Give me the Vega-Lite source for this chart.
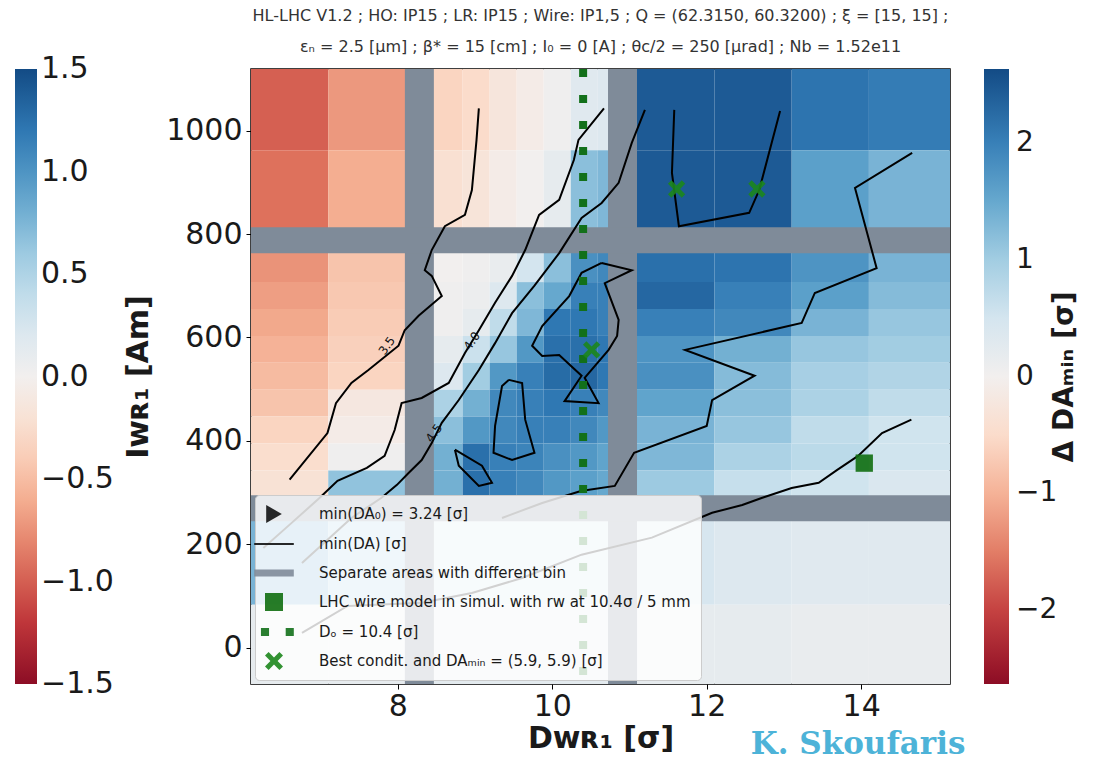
{
  "$schema": "https://vega.github.io/schema/vega-lite/v6.json",
  "width": 699,
  "height": 615,
  "padding": {"left": 15, "top": 7, "right": 0, "bottom": 0},
  "background": "white",
  "title": {
    "text": [
      "HL-LHC V1.2 ; HO: IP15 ; LR: IP15 ; Wire: IP1,5 ; Q = (62.3150, 60.3200) ; ξ = [15, 15] ;",
      "εₙ = 2.5 [μm] ;  β* = 15 [cm] ; I₀ = 0 [A] ; θc/2 = 250 [μrad] ; Nb = 1.52e11"
    ],
    "frame": "group",
    "anchor": "middle",
    "fontSize": 16,
    "fontWeight": "normal",
    "color": "#333333",
    "lineHeight": 31,
    "offset": 0
  },
  "layer": [
    {
      "data": {"values": [
        {"d0":6.0,"d1":7.1,"i0":962,"i1":1130,"v":-1.75},{"d0":7.1,"d1":8.3,"i0":962,"i1":1130,"v":-1.25},{"d0":8.3,"d1":8.84,"i0":962,"i1":1130,"v":-0.6},{"d0":8.84,"d1":9.19,"i0":962,"i1":1130,"v":-0.5},{"d0":9.19,"d1":9.54,"i0":962,"i1":1130,"v":-0.25},{"d0":9.54,"d1":9.89,"i0":962,"i1":1130,"v":-0.1},{"d0":9.89,"d1":10.24,"i0":962,"i1":1130,"v":0.05},{"d0":10.24,"d1":10.59,"i0":962,"i1":1130,"v":0.3},{"d0":10.59,"d1":10.91,"i0":962,"i1":1130,"v":0.35},{"d0":10.91,"d1":12.1,"i0":962,"i1":1130,"v":2.45},{"d0":12.1,"d1":13.1,"i0":962,"i1":1130,"v":2.45},{"d0":13.1,"d1":14.1,"i0":962,"i1":1130,"v":2.15},{"d0":14.1,"d1":15.3,"i0":962,"i1":1130,"v":2.05},
        {"d0":6.0,"d1":7.1,"i0":775,"i1":962,"v":-1.6},{"d0":7.1,"d1":8.3,"i0":775,"i1":962,"v":-1.05},{"d0":8.3,"d1":8.84,"i0":775,"i1":962,"v":-0.4},{"d0":8.84,"d1":9.19,"i0":775,"i1":962,"v":-0.3},{"d0":9.19,"d1":9.54,"i0":775,"i1":962,"v":-0.1},{"d0":9.54,"d1":9.89,"i0":775,"i1":962,"v":0.0},{"d0":9.89,"d1":10.24,"i0":775,"i1":962,"v":0.2},{"d0":10.24,"d1":10.59,"i0":775,"i1":962,"v":1.2},{"d0":10.59,"d1":10.91,"i0":775,"i1":962,"v":1.3},{"d0":10.91,"d1":12.1,"i0":775,"i1":962,"v":2.45},{"d0":12.1,"d1":13.1,"i0":775,"i1":962,"v":2.45},{"d0":13.1,"d1":14.1,"i0":775,"i1":962,"v":1.6},{"d0":14.1,"d1":15.3,"i0":775,"i1":962,"v":1.35},
        {"d0":6.0,"d1":7.1,"i0":707,"i1":775,"v":-1.3},{"d0":7.1,"d1":8.3,"i0":707,"i1":775,"v":-0.8},{"d0":8.3,"d1":8.84,"i0":707,"i1":775,"v":0.0},{"d0":8.84,"d1":9.19,"i0":707,"i1":775,"v":0.05},{"d0":9.19,"d1":9.54,"i0":707,"i1":775,"v":0.15},{"d0":9.54,"d1":9.89,"i0":707,"i1":775,"v":0.5},{"d0":9.89,"d1":10.24,"i0":707,"i1":775,"v":1.2},{"d0":10.24,"d1":10.59,"i0":707,"i1":775,"v":1.8},{"d0":10.59,"d1":10.91,"i0":707,"i1":775,"v":1.9},{"d0":10.91,"d1":12.1,"i0":707,"i1":775,"v":2.2},{"d0":12.1,"d1":13.1,"i0":707,"i1":775,"v":2.15},{"d0":13.1,"d1":14.1,"i0":707,"i1":775,"v":1.75},{"d0":14.1,"d1":15.3,"i0":707,"i1":775,"v":1.35},
        {"d0":6.0,"d1":7.1,"i0":655,"i1":707,"v":-1.2},{"d0":7.1,"d1":8.3,"i0":655,"i1":707,"v":-0.75},{"d0":8.3,"d1":8.84,"i0":655,"i1":707,"v":0.05},{"d0":8.84,"d1":9.19,"i0":655,"i1":707,"v":0.1},{"d0":9.19,"d1":9.54,"i0":655,"i1":707,"v":0.35},{"d0":9.54,"d1":9.89,"i0":655,"i1":707,"v":1.2},{"d0":9.89,"d1":10.24,"i0":655,"i1":707,"v":1.5},{"d0":10.24,"d1":10.59,"i0":655,"i1":707,"v":2.0},{"d0":10.59,"d1":10.91,"i0":655,"i1":707,"v":2.0},{"d0":10.91,"d1":12.1,"i0":655,"i1":707,"v":2.3},{"d0":12.1,"d1":13.1,"i0":655,"i1":707,"v":2.0},{"d0":13.1,"d1":14.1,"i0":655,"i1":707,"v":1.6},{"d0":14.1,"d1":15.3,"i0":655,"i1":707,"v":1.25},
        {"d0":6.0,"d1":7.1,"i0":603,"i1":655,"v":-1.1},{"d0":7.1,"d1":8.3,"i0":603,"i1":655,"v":-0.7},{"d0":8.3,"d1":8.84,"i0":603,"i1":655,"v":0.05},{"d0":8.84,"d1":9.19,"i0":603,"i1":655,"v":0.2},{"d0":9.19,"d1":9.54,"i0":603,"i1":655,"v":0.7},{"d0":9.54,"d1":9.89,"i0":603,"i1":655,"v":1.3},{"d0":9.89,"d1":10.24,"i0":603,"i1":655,"v":2.1},{"d0":10.24,"d1":10.59,"i0":603,"i1":655,"v":2.1},{"d0":10.59,"d1":10.91,"i0":603,"i1":655,"v":2.0},{"d0":10.91,"d1":12.1,"i0":603,"i1":655,"v":2.0},{"d0":12.1,"d1":13.1,"i0":603,"i1":655,"v":1.9},{"d0":13.1,"d1":14.1,"i0":603,"i1":655,"v":1.35},{"d0":14.1,"d1":15.3,"i0":603,"i1":655,"v":1.1},
        {"d0":6.0,"d1":7.1,"i0":551,"i1":603,"v":-1.0},{"d0":7.1,"d1":8.3,"i0":551,"i1":603,"v":-0.65},{"d0":8.3,"d1":8.84,"i0":551,"i1":603,"v":0.2},{"d0":8.84,"d1":9.19,"i0":551,"i1":603,"v":0.6},{"d0":9.19,"d1":9.54,"i0":551,"i1":603,"v":1.1},{"d0":9.54,"d1":9.89,"i0":551,"i1":603,"v":1.7},{"d0":9.89,"d1":10.24,"i0":551,"i1":603,"v":2.2},{"d0":10.24,"d1":10.59,"i0":551,"i1":603,"v":2.2},{"d0":10.59,"d1":10.91,"i0":551,"i1":603,"v":2.1},{"d0":10.91,"d1":12.1,"i0":551,"i1":603,"v":1.75},{"d0":12.1,"d1":13.1,"i0":551,"i1":603,"v":1.4},{"d0":13.1,"d1":14.1,"i0":551,"i1":603,"v":1.1},{"d0":14.1,"d1":15.3,"i0":551,"i1":603,"v":1.0},
        {"d0":6.0,"d1":7.1,"i0":499,"i1":551,"v":-0.9},{"d0":7.1,"d1":8.3,"i0":499,"i1":551,"v":-0.6},{"d0":8.3,"d1":8.84,"i0":499,"i1":551,"v":0.35},{"d0":8.84,"d1":9.19,"i0":499,"i1":551,"v":1.0},{"d0":9.19,"d1":9.54,"i0":499,"i1":551,"v":1.7},{"d0":9.54,"d1":9.89,"i0":499,"i1":551,"v":2.0},{"d0":9.89,"d1":10.24,"i0":499,"i1":551,"v":2.25},{"d0":10.24,"d1":10.59,"i0":499,"i1":551,"v":2.3},{"d0":10.59,"d1":10.91,"i0":499,"i1":551,"v":2.1},{"d0":10.91,"d1":12.1,"i0":499,"i1":551,"v":1.8},{"d0":12.1,"d1":13.1,"i0":499,"i1":551,"v":1.25},{"d0":13.1,"d1":14.1,"i0":499,"i1":551,"v":0.95},{"d0":14.1,"d1":15.3,"i0":499,"i1":551,"v":0.85},
        {"d0":6.0,"d1":7.1,"i0":447,"i1":499,"v":-0.8},{"d0":7.1,"d1":8.3,"i0":447,"i1":499,"v":-0.2},{"d0":8.3,"d1":8.84,"i0":447,"i1":499,"v":0.9},{"d0":8.84,"d1":9.19,"i0":447,"i1":499,"v":1.4},{"d0":9.19,"d1":9.54,"i0":447,"i1":499,"v":1.9},{"d0":9.54,"d1":9.89,"i0":447,"i1":499,"v":2.0},{"d0":9.89,"d1":10.24,"i0":447,"i1":499,"v":2.1},{"d0":10.24,"d1":10.59,"i0":447,"i1":499,"v":2.0},{"d0":10.59,"d1":10.91,"i0":447,"i1":499,"v":1.9},{"d0":10.91,"d1":12.1,"i0":447,"i1":499,"v":1.55},{"d0":12.1,"d1":13.1,"i0":447,"i1":499,"v":1.2},{"d0":13.1,"d1":14.1,"i0":447,"i1":499,"v":0.9},{"d0":14.1,"d1":15.3,"i0":447,"i1":499,"v":0.7},
        {"d0":6.0,"d1":7.1,"i0":395,"i1":447,"v":-0.6},{"d0":7.1,"d1":8.3,"i0":395,"i1":447,"v":-0.1},{"d0":8.3,"d1":8.84,"i0":395,"i1":447,"v":1.2},{"d0":8.84,"d1":9.19,"i0":395,"i1":447,"v":1.7},{"d0":9.19,"d1":9.54,"i0":395,"i1":447,"v":1.9},{"d0":9.54,"d1":9.89,"i0":395,"i1":447,"v":2.0},{"d0":9.89,"d1":10.24,"i0":395,"i1":447,"v":2.0},{"d0":10.24,"d1":10.59,"i0":395,"i1":447,"v":1.9},{"d0":10.59,"d1":10.91,"i0":395,"i1":447,"v":1.7},{"d0":10.91,"d1":12.1,"i0":395,"i1":447,"v":1.35},{"d0":12.1,"d1":13.1,"i0":395,"i1":447,"v":1.1},{"d0":13.1,"d1":14.1,"i0":395,"i1":447,"v":0.7},{"d0":14.1,"d1":15.3,"i0":395,"i1":447,"v":0.55},
        {"d0":6.0,"d1":7.1,"i0":343,"i1":395,"v":-0.45},{"d0":7.1,"d1":8.3,"i0":343,"i1":395,"v":0.05},{"d0":8.3,"d1":8.84,"i0":343,"i1":395,"v":1.4},{"d0":8.84,"d1":9.19,"i0":343,"i1":395,"v":2.2},{"d0":9.19,"d1":9.54,"i0":343,"i1":395,"v":2.0},{"d0":9.54,"d1":9.89,"i0":343,"i1":395,"v":1.95},{"d0":9.89,"d1":10.24,"i0":343,"i1":395,"v":1.8},{"d0":10.24,"d1":10.59,"i0":343,"i1":395,"v":1.7},{"d0":10.59,"d1":10.91,"i0":343,"i1":395,"v":1.55},{"d0":10.91,"d1":12.1,"i0":343,"i1":395,"v":1.3},{"d0":12.1,"d1":13.1,"i0":343,"i1":395,"v":0.9},{"d0":13.1,"d1":14.1,"i0":343,"i1":395,"v":0.75},{"d0":14.1,"d1":15.3,"i0":343,"i1":395,"v":0.55},
        {"d0":6.0,"d1":7.1,"i0":291,"i1":343,"v":-0.35},{"d0":7.1,"d1":8.3,"i0":291,"i1":343,"v":1.15},{"d0":8.3,"d1":8.84,"i0":291,"i1":343,"v":1.4},{"d0":8.84,"d1":9.19,"i0":291,"i1":343,"v":2.2},{"d0":9.19,"d1":9.54,"i0":291,"i1":343,"v":2.0},{"d0":9.54,"d1":9.89,"i0":291,"i1":343,"v":1.9},{"d0":9.89,"d1":10.24,"i0":291,"i1":343,"v":1.7},{"d0":10.24,"d1":10.59,"i0":291,"i1":343,"v":1.6},{"d0":10.59,"d1":10.91,"i0":291,"i1":343,"v":1.5},{"d0":10.91,"d1":12.1,"i0":291,"i1":343,"v":1.05},{"d0":12.1,"d1":13.1,"i0":291,"i1":343,"v":0.65},{"d0":13.1,"d1":14.1,"i0":291,"i1":343,"v":0.55},{"d0":14.1,"d1":15.3,"i0":291,"i1":343,"v":0.4},
        {"d0":6.0,"d1":7.1,"i0":83,"i1":291,"v":1.35},{"d0":7.1,"d1":8.3,"i0":83,"i1":291,"v":0.9},{"d0":8.3,"d1":10.91,"i0":83,"i1":291,"v":0.5},{"d0":10.91,"d1":12.1,"i0":83,"i1":291,"v":0.45},{"d0":12.1,"d1":13.1,"i0":83,"i1":291,"v":0.35},{"d0":13.1,"d1":14.1,"i0":83,"i1":291,"v":0.3},{"d0":14.1,"d1":15.3,"i0":83,"i1":291,"v":0.3},
        {"d0":6.0,"d1":7.1,"i0":-80,"i1":83,"v":0.2},{"d0":7.1,"d1":8.3,"i0":-80,"i1":83,"v":0.2},{"d0":8.3,"d1":10.91,"i0":-80,"i1":83,"v":0.25},{"d0":10.91,"d1":12.1,"i0":-80,"i1":83,"v":0.2},{"d0":12.1,"d1":13.1,"i0":-80,"i1":83,"v":0.2},{"d0":13.1,"d1":14.1,"i0":-80,"i1":83,"v":0.15},{"d0":14.1,"d1":15.3,"i0":-80,"i1":83,"v":0.15}
      ]},
      "mark": {"type": "rect", "clip": true, "strokeWidth": 0},
      "encoding": {
        "x": {"field": "d0", "type": "quantitative", "title": "Dᴡʀ₁ [σ]",
              "scale": {"domain": [6.1, 15.15], "nice": false, "zero": false},
              "axis": {"values": [8, 10, 12, 14], "format": "d", "labelPadding": 2, "titlePadding": 2}},
        "x2": {"field": "d1"},
        "y": {"field": "i0", "type": "quantitative", "title": "Iᴡʀ₁ [Am]",
              "scale": {"domain": [-70, 1119], "nice": false, "zero": false},
              "axis": {"values": [0, 200, 400, 600, 800, 1000], "format": "d", "labelPadding": 4, "titlePadding": 12}},
        "y2": {"field": "i1"},
        "fill": {"field": "v", "type": "quantitative",
                 "scale": {"scheme": "redblue", "domain": [-2.63, 2.63], "clamp": true},
                 "legend": {"orient": "right", "offset": 34, "gradientLength": 615, "gradientThickness": 25,
                            "values": [-2, -1, 0, 1, 2], "format": "d", "labelFontSize": 28, "labelOffset": 7,
                            "title": "Δ DAₘᵢₙ [σ]", "titleOrient": "right", "titleAnchor": "middle",
                            "titleFontSize": 28, "titleFontWeight": "bold", "titleColor": "#1a1a1a", "titlePadding": 22,
                            "encode": {"title": {"update": {"angle": {"value": 270}}}}}},
        "stroke": {"field": "v", "type": "quantitative",
                   "scale": {"scheme": "redblue", "domain": [-1.5, 1.5], "clamp": true},
                   "legend": {"orient": "left", "offset": 9, "gradientLength": 615, "gradientThickness": 22,
                              "values": [-1.5, -1, -0.5, 0, 0.5, 1, 1.5], "format": ".1f", "labelFontSize": 30,
                              "labelOffset": 4, "title": null,
                              "encode": {"labels": {"update": {"baseline": {"value": "middle"}}}}}}
      }
    },
    {
      "data": {"values": [{"d": 8.28}, {"d": 10.91}]},
      "mark": {"type": "rule", "color": "#7f8b99", "strokeWidth": 29},
      "encoding": {"x": {"field": "d", "type": "quantitative"}}
    },
    {
      "data": {"values": [{"i": 788}, {"i": 270}]},
      "mark": {"type": "rule", "color": "#7f8b99", "strokeWidth": 26},
      "encoding": {"y": {"field": "i", "type": "quantitative"}}
    },
    {
      "data": {"values": [
        {"c":"A","d":9.05,"i":1043},{"c":"A","d":9.02,"i":982},{"c":"A","d":8.96,"i":885},{"c":"A","d":8.87,"i":837},{"c":"A","d":8.61,"i":815},{"c":"A","d":8.44,"i":769},{"c":"A","d":8.35,"i":730},{"c":"A","d":8.44,"i":719},{"c":"A","d":8.57,"i":680},{"c":"A","d":8.27,"i":642},{"c":"A","d":8.09,"i":614},{"c":"A","d":8.01,"i":584},{"c":"A","d":7.62,"i":537},{"c":"A","d":7.4,"i":512},{"c":"A","d":7.2,"i":473},{"c":"A","d":7.09,"i":415},{"c":"A","d":6.6,"i":325},
        {"c":"B","d":10.67,"i":1043},{"c":"B","d":10.34,"i":982},{"c":"B","d":10.28,"i":943},{"c":"B","d":10.09,"i":866},{"c":"B","d":9.83,"i":837},{"c":"B","d":9.65,"i":769},{"c":"B","d":9.48,"i":719},{"c":"B","d":9.26,"i":667},{"c":"B","d":9.05,"i":614},{"c":"B","d":8.87,"i":570},{"c":"B","d":8.66,"i":512},{"c":"B","d":8.31,"i":483},{"c":"B","d":8.05,"i":473},{"c":"B","d":7.96,"i":421},{"c":"B","d":7.83,"i":371},{"c":"B","d":7.6,"i":348},{"c":"B","d":7.22,"i":323},{"c":"B","d":6.99,"i":290},{"c":"B","d":6.63,"i":242},{"c":"B","d":6.26,"i":193},
        {"c":"C","d":11.2,"i":1040},{"c":"C","d":11.03,"i":976},{"c":"C","d":10.86,"i":899},{"c":"C","d":10.64,"i":860},{"c":"C","d":10.38,"i":831},{"c":"C","d":10.09,"i":763},{"c":"C","d":9.77,"i":700},{"c":"C","d":9.48,"i":647},{"c":"C","d":9.26,"i":589},{"c":"C","d":9.05,"i":537},{"c":"C","d":8.79,"i":479},{"c":"C","d":8.57,"i":435},{"c":"C","d":8.44,"i":396},{"c":"C","d":8.31,"i":363},{"c":"C","d":8.14,"i":338},{"c":"C","d":7.99,"i":315},{"c":"C","d":7.79,"i":290},{"c":"C","d":7.4,"i":251},{"c":"C","d":6.76,"i":164},
        {"c":"D","d":14.65,"i":441},{"c":"D","d":14.27,"i":415},{"c":"D","d":13.96,"i":371},{"c":"D","d":13.69,"i":344},{"c":"D","d":13.45,"i":319},{"c":"D","d":13.1,"i":309},{"c":"D","d":12.72,"i":290},{"c":"D","d":12.46,"i":276},{"c":"D","d":12.07,"i":261},{"c":"D","d":11.29,"i":213},{"c":"D","d":10.38,"i":180},{"c":"D","d":9.61,"i":135},{"c":"D","d":8.96,"i":106},{"c":"D","d":8.31,"i":87},{"c":"D","d":7.35,"i":81},{"c":"D","d":6.76,"i":29},
        {"c":"E","d":14.66,"i":957},{"c":"E","d":13.92,"i":889},{"c":"E","d":14.2,"i":734},{"c":"E","d":13.4,"i":686},{"c":"E","d":13.23,"i":628},{"c":"E","d":11.72,"i":576},{"c":"E","d":12.62,"i":526},{"c":"E","d":12.07,"i":479},{"c":"E","d":12.0,"i":429},{"c":"E","d":11.06,"i":377},{"c":"E","d":10.81,"i":313},{"c":"E","d":10.37,"i":303},{"c":"E","d":9.87,"i":280},{"c":"E","d":9.35,"i":251},
        {"c":"F","d":11.58,"i":1040},{"c":"F","d":11.55,"i":918},{"c":"F","d":11.64,"i":815},{"c":"F","d":12.55,"i":841},{"c":"F","d":12.68,"i":885},{"c":"F","d":12.95,"i":1038},
        {"c":"H","d":10.64,"i":744},{"c":"H","d":11.03,"i":730},{"c":"H","d":10.68,"i":705},{"c":"H","d":10.86,"i":634},{"c":"H","d":10.84,"i":603},{"c":"H","d":10.73,"i":576},{"c":"H","d":10.42,"i":522},{"c":"H","d":10.6,"i":473},{"c":"H","d":10.16,"i":477},{"c":"H","d":10.38,"i":526},{"c":"H","d":10.09,"i":566},{"c":"H","d":9.87,"i":564},{"c":"H","d":9.74,"i":584},{"c":"H","d":9.87,"i":622},{"c":"H","d":10.22,"i":680},{"c":"H","d":10.38,"i":725},{"c":"H","d":10.64,"i":744},
        {"c":"I","d":9.44,"i":518},{"c":"I","d":9.61,"i":512},{"c":"I","d":9.65,"i":441},{"c":"I","d":9.77,"i":377},{"c":"I","d":9.48,"i":363},{"c":"I","d":9.24,"i":377},{"c":"I","d":9.26,"i":429},{"c":"I","d":9.35,"i":506},{"c":"I","d":9.44,"i":518},
        {"c":"J","d":8.74,"i":383},{"c":"J","d":9.09,"i":352},{"c":"J","d":9.22,"i":319},{"c":"J","d":9.05,"i":313},{"c":"J","d":8.79,"i":352},{"c":"J","d":8.74,"i":383}
      ]},
      "mark": {"type": "line", "color": "#000000", "strokeWidth": 2, "clip": true},
      "encoding": {
        "x": {"field": "d", "type": "quantitative"},
        "y": {"field": "i", "type": "quantitative"},
        "detail": {"field": "c"},
        "order": {"value": null}
      }
    },
    {
      "data": {"values": [{"d": 10.4}]},
      "mark": {"type": "rule", "color": "#12701a", "strokeWidth": 8, "strokeDash": [8, 18]},
      "encoding": {"x": {"field": "d", "type": "quantitative"}}
    },
    {
      "data": {"values": [
        {"d": 7.86, "i": 584, "t": "3.5"},
        {"d": 8.96, "i": 593, "t": "4.0"},
        {"d": 8.47, "i": 415, "t": "4.5"}
      ]},
      "mark": {"type": "text", "angle": 305, "fontSize": 12, "color": "#111111"},
      "encoding": {
        "x": {"field": "d", "type": "quantitative"},
        "y": {"field": "i", "type": "quantitative"},
        "text": {"field": "t"}
      }
    },
    {
      "data": {"values": [
        {"d": 14.04, "i": 357, "k": "LHC wire model in simul. with rw at 10.4σ / 5 mm"},
        {"d": 11.61, "i": 887, "k": "Best condit. and DAₘᵢₙ = (5.9, 5.9) [σ]"},
        {"d": 12.65, "i": 887, "k": "Best condit. and DAₘᵢₙ = (5.9, 5.9) [σ]"},
        {"d": 10.51, "i": 576, "k": "Best condit. and DAₘᵢₙ = (5.9, 5.9) [σ]"}
      ]},
      "mark": {"type": "point", "filled": true, "size": 300, "opacity": 0.9},
      "encoding": {
        "x": {"field": "d", "type": "quantitative"},
        "y": {"field": "i", "type": "quantitative"},
        "shape": {"field": "k", "type": "nominal",
          "scale": {
            "domain": ["min(DA₀) = 3.24 [σ]", "min(DA) [σ]", "Separate areas with different bin", "LHC wire model in simul. with rw at 10.4σ / 5 mm", "Dₒ = 10.4 [σ]", "Best condit. and DAₘᵢₙ = (5.9, 5.9) [σ]"],
            "range": ["triangle-right", "M-2.2,-0.11H2.2V0.11H-2.2Z", "M-2.2,-0.4H2.2V0.4H-2.2Z", "square", "M-1.45,-0.45H-0.55V0.45H-1.45Z M1.3,-0.45H2.2V0.45H1.3Z", "M-1,-0.6L-0.6,-1L0,-0.4L0.6,-1L1,-0.6L0.4,0L1,0.6L0.6,1L0,0.4L-0.6,1L-1,0.6L-0.4,0Z"]
          },
          "legend": {"orient": "bottom-left", "offset": 4, "title": null, "fillColor": "rgba(255,255,255,0.82)", "strokeColor": "#cccccc",
                     "cornerRadius": 4, "padding": 10, "labelFontSize": 15, "labelLimit": 700, "symbolSize": 324,
                     "symbolOffset": 0, "labelOffset": 36, "rowPadding": 12, "symbolStrokeWidth": 0}},
        "color": {"field": "k", "type": "nominal",
          "scale": {
            "domain": ["min(DA₀) = 3.24 [σ]", "min(DA) [σ]", "Separate areas with different bin", "LHC wire model in simul. with rw at 10.4σ / 5 mm", "Dₒ = 10.4 [σ]", "Best condit. and DAₘᵢₙ = (5.9, 5.9) [σ]"],
            "range": ["#111111", "#111111", "#7f8b99", "#0f6e0f", "#12701a", "#1c861c"]
          },
          "legend": {"orient": "bottom-left", "offset": 4, "title": null, "fillColor": "rgba(255,255,255,0.82)", "strokeColor": "#cccccc",
                     "cornerRadius": 4, "padding": 10, "labelFontSize": 15, "labelLimit": 700, "symbolSize": 324,
                     "symbolOffset": 0, "labelOffset": 36, "rowPadding": 12, "symbolStrokeWidth": 0}}
      }
    },
    {
      "data": {"values": [{"t": "K. Skoufaris"}]},
      "mark": {"type": "text", "font": "DejaVu Serif", "fontWeight": "bold", "fontSize": 31, "color": "#4db3d8", "align": "center", "baseline": "middle"},
      "encoding": {
        "x": {"datum": 13.96},
        "y": {"datum": -188},
        "text": {"field": "t"}
      }
    }
  ],
  "config": {
    "font": "DejaVu Sans",
    "view": {"stroke": "#000000", "strokeWidth": 1.5},
    "axis": {"grid": false, "domain": false, "tickColor": "#000000", "tickSize": 5, "labelFontSize": 30,
             "labelColor": "#1a1a1a", "titleFontSize": 30, "titleFontWeight": "bold", "titleColor": "#1a1a1a"},
    "legend": {"labelFont": "DejaVu Sans", "labelColor": "#1a1a1a", "gradientStrokeWidth": 0}
  }
}
